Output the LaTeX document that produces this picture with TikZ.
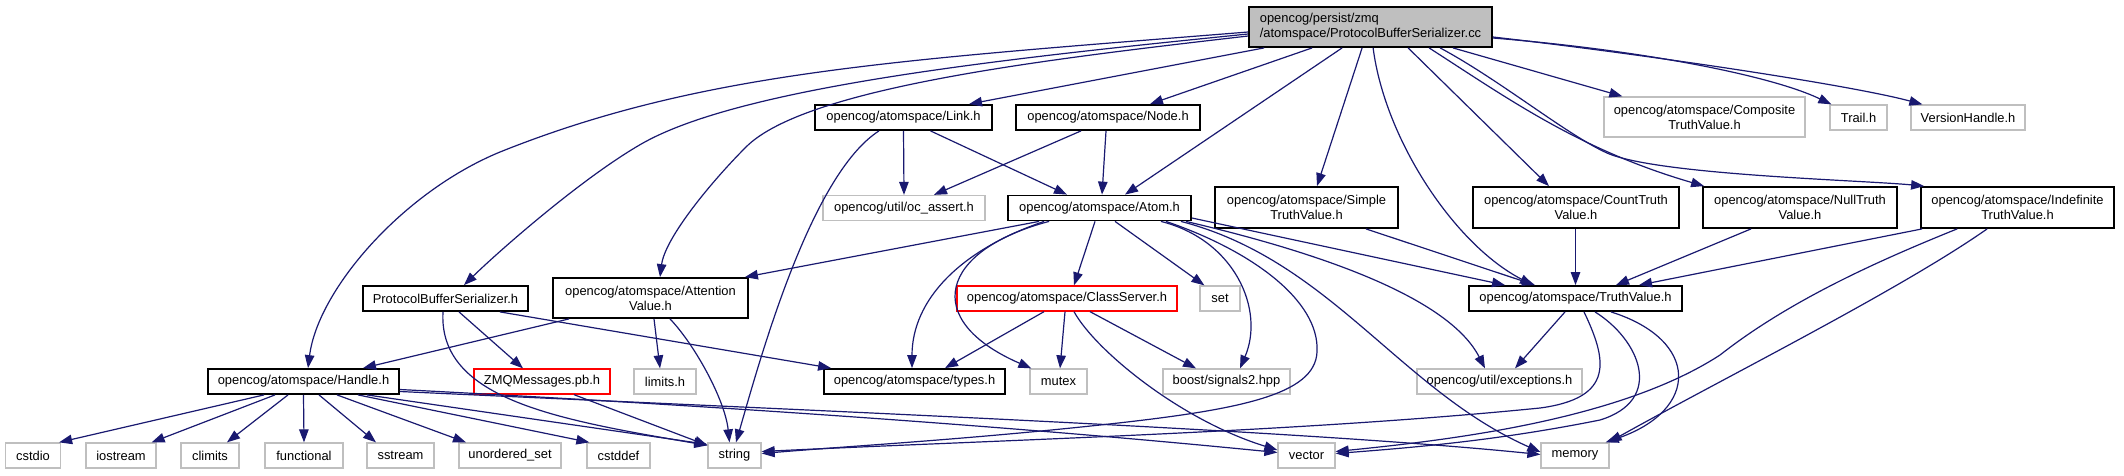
\documentclass[tikz,border=0pt]{standalone}
\usepackage{fontspec}
\newfontfamily\dfont{Liberation Sans}
\usetikzlibrary{arrows.meta,calc}
\definecolor{edgeblue}{HTML}{191970}
\definecolor{boxgray}{HTML}{BFBFBF}
\definecolor{boxred}{HTML}{FF0000}
\newcommand\nfont{\dfont\fontsize{12.9}{15}\selectfont}
\begin{document}
\begin{tikzpicture}[x=1pt,y=-1pt,
  box/.style={draw, line width=1.3pt, inner sep=0pt, font=\nfont, minimum height=25pt, align=center},
  blk/.style={box, draw=black, line width=1.8pt},
  gry/.style={box, draw=boxgray},
  rbox/.style={box, draw=boxred},
  conn/.style={draw=edgeblue, line width=1.2pt, -{Triangle[length=13pt,width=9.5pt]}}]
\fill[white] (0,0) rectangle (2124,475);
\useasboundingbox (0,0) rectangle (2124,475);
% row 1
\node[blk, fill=boxgray, minimum width=243pt, minimum height=40pt, align=left] (cc) at (1370.5,27) {opencog/persist/zmq\\/atomspace/ProtocolBufferSerializer.cc};
% row 2
\node[blk, minimum width=177pt] (link) at (903.5,117.5) {opencog/atomspace/Link.h};
\node[blk, minimum width=184pt] (node) at (1108,117.5) {opencog/atomspace/Node.h};
\node[gry, minimum width=201pt, minimum height=40pt] (comp) at (1704.5,117) {opencog/atomspace/Composite\\TruthValue.h};
\node[gry, minimum width=57pt] (trail) at (1858.5,117.5) {Trail.h};
\node[gry, minimum width=114pt] (vh) at (1968,117.5) {VersionHandle.h};
% row 3
\node[gry, minimum width=162pt] (ocassert) at (904,208) {opencog/util/oc\_assert.h};
\node[blk, minimum width=183pt] (atom) at (1099.5,208) {opencog/atomspace/Atom.h};
\node[blk, minimum width=183pt, minimum height=41pt] (stv) at (1306.5,207.5) {opencog/atomspace/Simple\\TruthValue.h};
\node[blk, minimum width=206pt, minimum height=41pt] (ctv) at (1576,207.5) {opencog/atomspace/CountTruth\\Value.h};
\node[blk, minimum width=194pt, minimum height=41pt] (ntv) at (1800,207.5) {opencog/atomspace/NullTruth\\Value.h};
\node[blk, minimum width=193pt, minimum height=41pt] (itv) at (2017.5,207.5) {opencog/atomspace/Indefinite\\TruthValue.h};
% row 4
\node[blk, minimum width=165pt] (pbsh) at (445.5,298.5) {ProtocolBufferSerializer.h};
\node[blk, minimum width=195pt, minimum height=40pt] (av) at (650.5,298) {opencog/atomspace/Attention\\Value.h};
\node[rbox, minimum width=220pt] (cs) at (1067,298.5) {opencog/atomspace/ClassServer.h};
\node[gry, minimum width=40pt] (set) at (1220,298.5) {set};
\node[blk, minimum width=213pt] (tv) at (1575.5,298.5) {opencog/atomspace/TruthValue.h};
% row 5
\node[blk, minimum width=191pt] (handle) at (303.5,381.5) {opencog/atomspace/Handle.h};
\node[rbox, minimum width=136pt] (zmq) at (542,381.5) {ZMQMessages.pb.h};
\node[gry, minimum width=62pt] (limits) at (665,381.5) {limits.h};
\node[blk, minimum width=181pt] (types) at (914.5,381.5) {opencog/atomspace/types.h};
\node[gry, minimum width=57pt] (mutex) at (1058.5,381.5) {mutex};
\node[gry, minimum width=127pt] (signals) at (1226.5,381.5) {boost/signals2.hpp};
\node[gry, minimum width=165pt] (exc) at (1499.5,381.5) {opencog/util/exceptions.h};
% row 6
\node[gry, minimum width=55pt] (cstdio) at (33,455.5) {cstdio};
\node[gry, minimum width=70pt] (iostream) at (121,455.5) {iostream};
\node[gry, minimum width=58pt] (climits) at (210,455.5) {climits};
\node[gry, minimum width=78pt] (functional) at (304,455.5) {functional};
\node[gry, minimum width=67pt] (sstream) at (400.5,455.5) {sstream};
\node[gry, minimum width=102pt] (unordered) at (510,455.5) {unordered\_set};
\node[gry, minimum width=63pt] (cstddef) at (618.5,455.5) {cstddef};
\node[gry, minimum width=53pt] (string) at (734.5,455.5) {string};
\node[gry, minimum width=57pt] (vector) at (1306.5,455.5) {vector};
\node[gry, minimum width=68pt] (memory) at (1575,455.5) {memory};

% edges from cc
\draw[conn] ($(cc.west)+(0,5)$) .. controls (899,60) and (705,71) .. (505,150) .. controls (405,189) and (318,289) .. ($(handle.north)+(4.5,0)$);
\draw[conn] ($(cc.west)+(0,7)$) .. controls (999,59) and (743,87) .. (643,143) .. controls (583,177) and (499,251) .. ($(pbsh.north)+(18.5,0)$);
\draw[conn] ($(cc.west)+(0,9)$) .. controls (1049,59) and (806,87) .. (746,147) .. controls (711,182) and (665,238) .. ($(av.north)+(9.5,0)$);
\draw[conn] ($(cc.south west)+(16,0)$) -- ($(link.north)+(65.5,0)$);
\draw[conn] ($(cc.south west)+(64,0)$) -- ($(node.north)+(42,0)$);
\draw[conn] ($(cc.south west)+(94,0)$) -- ($(atom.north)+(25.5,0)$);
\draw[conn] ($(cc.south west)+(114,0)$) -- ($(stv.north)+(10.5,0)$);
\draw[conn] ($(cc.south west)+(125,0)$) .. controls (1385,140) and (1455,245) .. ($(tv.north)+(-42.5,0)$);
\draw[conn] ($(cc.south west)+(160,0)$) -- ($(ctv.north)+(-27,0)$);
\draw[conn] ($(cc.south west)+(181,0)$) .. controls (1510,100) and (1580,150) .. ($(ntv.north west)+(2,0)$);
\draw[conn] ($(cc.south west)+(192,0)$) .. controls (1500,80) and (1567,135) .. (1607,153) .. controls (1657,175) and (1860,180) .. ($(itv.north west)+(4,0)$);
\draw[conn] ($(cc.south east)+(-40,0)$) -- ($(comp.north west)+(19,0)$);
\draw[conn] ($(cc.east)+(0,11)$) .. controls (1640,50) and (1770,75) .. ($(trail.north west)+(2,0)$);
\draw[conn] ($(cc.east)+(0,10)$) .. controls (1650,55) and (1850,85) .. ($(vh.north west)+(12,0)$);
% link, node
\draw[conn] (link.south) -- (ocassert.north);
\draw[conn] ($(link.south)+(27,0)$) -- ($(atom.north)+(-32.5,0)$);
\draw[conn] ($(link.south)+(-24.5,0)$) .. controls (810,175) and (759,363) .. ($(string.north)+(1.5,0)$);
\draw[conn] ($(node.south)+(-27,0)$) -- ($(ocassert.north)+(30,0)$);
\draw[conn] ($(node.south)+(-2,0)$) -- ($(atom.north)+(2.5,0)$);
% pbsh, av
\draw[conn] ($(pbsh.south)+(-2.5,0)$) .. controls (438,400) and (560,420) .. ($(string.north west)+(0,3)$);
\draw[conn] ($(pbsh.south)+(13.5,0)$) -- ($(zmq.north)+(-19,0)$);
\draw[conn] ($(pbsh.south)+(54.5,0)$) -- ($(types.north west)+(8,0)$);
\draw[conn] ($(av.south)+(-81.5,0)$) -- ($(handle.north)+(59.5,0)$);
\draw[conn] ($(av.south)+(3.5,0)$) -- ($(limits.north)+(-5,0)$);
\draw[conn] ($(av.south)+(19.5,0)$) .. controls (695,345) and (725,400) .. ($(string.north)+(-5,0)$);
% atom
\draw[conn] ($(atom.south west)+(32,0)$) -- ($(av.north east)+(-4,0)$);
\draw[conn] ($(atom.south west)+(37,0)$) .. controls (960,250) and (912,300) .. ($(types.north)+(-2.5,0)$);
\draw[conn] ($(atom.south west)+(42,0)$) .. controls (940,250) and (920,320) .. ($(mutex.north west)+(2,0)$);
\draw[conn] ($(atom.south)+(-4.5,0)$) -- ($(cs.north)+(7,0)$);
\draw[conn] ($(atom.south)+(15.5,0)$) -- ($(set.north west)+(5,0)$);
\draw[conn] ($(atom.south east)+(-31,0)$) .. controls (1235,240) and (1265,310) .. ($(signals.north)+(13.5,0)$);
\draw[conn] ($(atom.south east)+(-26,0)$) .. controls (1250,250) and (1320,300) .. (1317,352) .. controls (1315,395) and (1240,410) .. (1100,425) .. controls (960,440) and (850,446) .. ($(string.east)+(0,-2)$);
\draw[conn] ($(atom.south east)+(-6,0)$) .. controls (1330,255) and (1450,300) .. ($(exc.north)+(-14.5,0)$);
\draw[conn] ($(atom.south east)+(-11,0)$) .. controls (1330,260) and (1400,390) .. ($(memory.west)+(0,-3.5)$);
\draw[conn] ($(atom.east)+(0,10)$) -- ($(tv.north)+(-70.5,0)$);
% class server
\draw[conn] ($(cs.south)+(-23,0)$) -- ($(types.north)+(30.5,0)$);
\draw[conn] ($(cs.south)+(-2,0)$) -- ($(mutex.north)+(1.5,0)$);
\draw[conn] ($(cs.south)+(23,0)$) -- ($(signals.north)+(-30.5,0)$);
\draw[conn] ($(cs.south)+(7,0)$) .. controls (1095,350) and (1180,420) .. ($(vector.west)+(0,-5.5)$);
% handle
\draw[conn] ($(handle.south)+(-39.5,0)$) -- ($(cstdio.north east)+(-2,0)$);
\draw[conn] ($(handle.south)+(-28.5,0)$) -- ($(iostream.north east)+(-5,0)$);
\draw[conn] ($(handle.south)+(-15.5,0)$) -- ($(climits.north)+(17,0)$);
\draw[conn] (handle.south) -- (functional.north);
\draw[conn] ($(handle.south)+(15.5,0)$) -- ($(sstream.north)+(-24.5,0)$);
\draw[conn] ($(handle.south)+(33.5,0)$) -- ($(unordered.north)+(-44,0)$);
\draw[conn] ($(handle.south)+(54.5,0)$) -- ($(cstddef.north west)+(3,0)$);
\draw[conn] ($(handle.south)+(63.5,0)$) -- ($(string.north west)+(0,2)$);
\draw[conn] ($(handle.east)+(0,8)$) .. controls (700,405) and (1000,425) .. ($(vector.west)+(0,-3)$);
\draw[conn] ($(handle.east)+(0,10)$) .. controls (800,410) and (1300,430) .. ($(memory.west)+(0,-1)$);
% zmq
\draw[conn] ($(zmq.south)+(32,0)$) -- ($(string.north west)+(0,3)$);
% truth value
\draw[conn] ($(tv.south)+(-10.5,0)$) -- ($(exc.north)+(15.5,0)$);
\draw[conn] ($(tv.south)+(8.5,0)$) .. controls (1607,360) and (1615,398) .. (1540,408) .. controls (1300,432) and (1000,440) .. ($(string.east)+(0,-4)$);
\draw[conn] ($(tv.south)+(19.5,0)$) .. controls (1640,340) and (1665,400) .. (1600,420) .. controls (1500,440) and (1420,447) .. ($(vector.east)+(0,-2)$);
\draw[conn] ($(tv.south)+(35.5,0)$) .. controls (1700,340) and (1700,410) .. ($(memory.north east)+(-4,0)$);
% truth value subclasses
\draw[conn] ($(stv.south)+(59.5,0)$) -- ($(tv.north)+(-40.5,0)$);
\draw[conn] ($(ctv.south)+(-0.5,0)$) -- (tv.north);
\draw[conn] ($(ntv.south)+(-49,0)$) -- ($(tv.north)+(40.5,0)$);
\draw[conn] ($(itv.south west)+(2,0)$) -- ($(tv.north)+(63.5,0)$);
\draw[conn] ($(itv.south west)+(37,0)$) .. controls (1880,260) and (1790,300) .. (1720,355) .. controls (1620,420) and (1450,440) .. ($(vector.east)+(0,-4)$);
\draw[conn] ($(itv.south west)+(67,0)$) .. controls (1900,290) and (1720,380) .. ($(memory.north east)+(-1,0)$);
\end{tikzpicture}
\end{document}
